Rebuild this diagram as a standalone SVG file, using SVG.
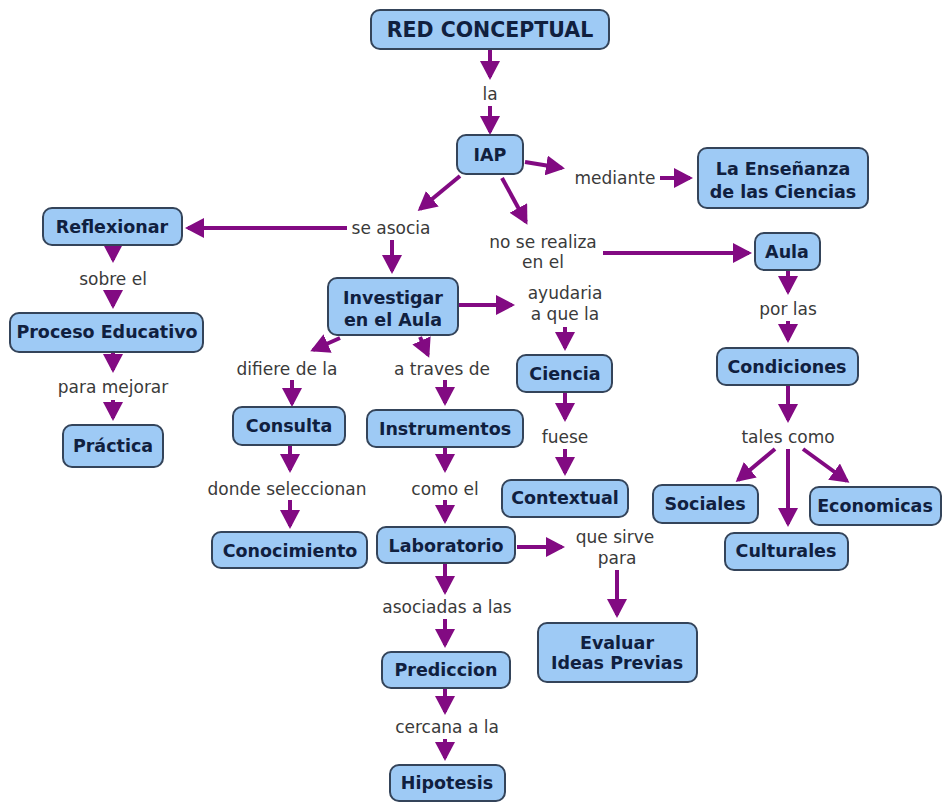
<svg xmlns="http://www.w3.org/2000/svg" width="945" height="803" viewBox="0 0 945 803">
<style>
.n rect{fill:#9ecaf5;stroke:#34445a;stroke-width:2}
.n text{font-family:"DejaVu Sans",Verdana,sans-serif;font-weight:bold;font-size:17.5px;fill:#10203f;text-anchor:middle;dominant-baseline:central}
.l{font-family:"DejaVu Sans",Verdana,sans-serif;font-size:17px;fill:#3a3a3a;text-anchor:middle;dominant-baseline:central}
.c path{fill:none;stroke:#820a82;stroke-width:4;marker-end:url(#ah)}
</style>
<defs>
<marker id="ah" markerUnits="userSpaceOnUse" markerWidth="20" markerHeight="20" refX="16" refY="10" orient="auto">
<path d="M0,0 L19,10 L0,20 z" fill="#820a82"/>
</marker>
</defs>
<rect width="945" height="803" fill="#ffffff"/>
<g class="c" id="connectors">
<path d="M490,49 L490,77"/>
<path d="M490,106 L490,132"/>
<path d="M525,162 L562,168"/>
<path d="M660,178 L690,178"/>
<path d="M502,178 L526,222"/>
<path d="M603,253 L749,253"/>
<path d="M460,176 L420,209"/>
<path d="M347,228 L188,228"/>
<path d="M392,240 L392,271"/>
<path d="M113,245 L113,260"/>
<path d="M113,292 L113,306"/>
<path d="M113,352 L113,370"/>
<path d="M113,400 L113,418"/>
<path d="M458,305 L512,305"/>
<path d="M565,327 L565,348"/>
<path d="M565,392 L565,419"/>
<path d="M565,449 L565,473"/>
<path d="M340,338 L313,350"/>
<path d="M292,380 L292,404"/>
<path d="M290,445 L290,470"/>
<path d="M290,500 L290,526"/>
<path d="M420,337 L428,355"/>
<path d="M445,380 L445,403"/>
<path d="M445,447 L445,470"/>
<path d="M445,500 L445,521"/>
<path d="M517,547 L562,547"/>
<path d="M617,570 L617,615"/>
<path d="M445,563 L445,592"/>
<path d="M445,619 L445,645"/>
<path d="M445,688 L445,712"/>
<path d="M445,739 L445,758"/>
<path d="M788,270 L788,292"/>
<path d="M788,321 L788,340"/>
<path d="M788,385 L788,420"/>
<path d="M775,449 L738,480"/>
<path d="M788,449 L788,524"/>
<path d="M803,449 L847,481"/>
</g>
<g id="labels">
<text class="l" x="490" y="94">la</text>
<text class="l" x="615" y="178">mediante</text>
<text class="l" x="543" y="242">no se realiza</text>
<text class="l" x="543" y="262">en el</text>
<text class="l" x="391" y="228">se asocia</text>
<text class="l" x="113" y="279">sobre el</text>
<text class="l" x="113" y="387">para mejorar</text>
<text class="l" x="565" y="293">ayudaria</text>
<text class="l" x="565" y="314">a que la</text>
<text class="l" x="565" y="437">fuese</text>
<text class="l" x="287" y="369">difiere de la</text>
<text class="l" x="287" y="489">donde seleccionan</text>
<text class="l" x="442" y="369">a traves de</text>
<text class="l" x="445" y="489">como el</text>
<text class="l" x="615" y="537">que sirve</text>
<text class="l" x="617" y="558">para</text>
<text class="l" x="447" y="607">asociadas a las</text>
<text class="l" x="447" y="727">cercana a la</text>
<text class="l" x="788" y="309">por las</text>
<text class="l" x="788" y="437">tales como</text>
</g>
<g class="n" id="red-conceptual"><rect x="371" y="10" width="238" height="39" rx="9"/><text x="490" y="30" style="font-size:20.5px">RED CONCEPTUAL</text></g>
<g class="n" id="iap"><rect x="457" y="135" width="66" height="39" rx="9"/><text x="490" y="155">IAP</text></g>
<g class="n" id="ensenanza"><rect x="698" y="148" width="170" height="60" rx="9"/><text x="783" y="169">La Enseñanza</text><text x="783" y="192">de las Ciencias</text></g>
<g class="n" id="aula"><rect x="755" y="233" width="65" height="37" rx="9"/><text x="787" y="252">Aula</text></g>
<g class="n" id="reflexionar"><rect x="43" y="208" width="139" height="37" rx="9"/><text x="112" y="227">Reflexionar</text></g>
<g class="n" id="proceso"><rect x="10" y="313" width="193" height="39" rx="9"/><text x="107" y="332">Proceso Educativo</text></g>
<g class="n" id="practica"><rect x="63" y="425" width="100" height="42" rx="9"/><text x="113" y="446">Práctica</text></g>
<g class="n" id="investigar"><rect x="328" y="278" width="130" height="57" rx="9"/><text x="393" y="298">Investigar</text><text x="393" y="320">en el Aula</text></g>
<g class="n" id="ciencia"><rect x="517" y="355" width="95" height="37" rx="9"/><text x="565" y="374">Ciencia</text></g>
<g class="n" id="contextual"><rect x="502" y="480" width="126" height="37" rx="9"/><text x="565" y="498">Contextual</text></g>
<g class="n" id="consulta"><rect x="233" y="407" width="112" height="38" rx="9"/><text x="289" y="426">Consulta</text></g>
<g class="n" id="conocimiento"><rect x="212" y="532" width="155" height="36" rx="9"/><text x="290" y="551">Conocimiento</text></g>
<g class="n" id="instrumentos"><rect x="367" y="410" width="156" height="37" rx="9"/><text x="445" y="429">Instrumentos</text></g>
<g class="n" id="laboratorio"><rect x="377" y="527" width="138" height="36" rx="9"/><text x="446" y="546">Laboratorio</text></g>
<g class="n" id="evaluar"><rect x="538" y="623" width="159" height="59" rx="9"/><text x="617" y="643">Evaluar</text><text x="617" y="663">Ideas Previas</text></g>
<g class="n" id="prediccion"><rect x="382" y="652" width="128" height="36" rx="9"/><text x="446" y="670">Prediccion</text></g>
<g class="n" id="hipotesis"><rect x="390" y="765" width="115" height="36" rx="9"/><text x="447" y="783">Hipotesis</text></g>
<g class="n" id="condiciones"><rect x="717" y="348" width="141" height="37" rx="9"/><text x="787" y="367">Condiciones</text></g>
<g class="n" id="sociales"><rect x="653" y="485" width="105" height="38" rx="9"/><text x="705" y="504">Sociales</text></g>
<g class="n" id="economicas"><rect x="810" y="487" width="131" height="38" rx="9"/><text x="875" y="506">Economicas</text></g>
<g class="n" id="culturales"><rect x="725" y="533" width="123" height="37" rx="9"/><text x="786" y="551">Culturales</text></g>
</svg>
